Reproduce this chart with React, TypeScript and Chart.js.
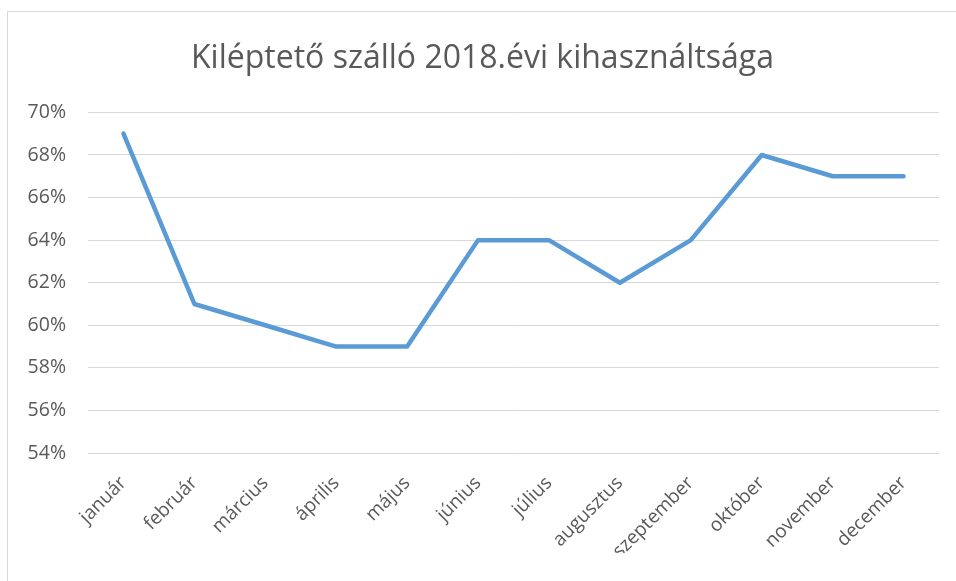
import React, { useEffect, useRef } from "react";
import { Chart, registerables } from "chart.js";

Chart.register(...registerables);

const TITLE = "Kiléptető szálló 2018.évi kihasználtsága";
const MONTHS = [
  "január", "február", "március", "április", "május", "június",
  "július", "augusztus", "szeptember", "október", "november", "december",
];
const OCCUPANCY = [0.69, 0.61, 0.60, 0.59, 0.59, 0.64, 0.64, 0.62, 0.64, 0.68, 0.67, 0.67];
const Y_MIN = 0.54;
const Y_MAX = 0.70;
const Y_STEP = 0.02;

const FONT = "'Open Sans', 'DejaVu Sans', sans-serif";
const TEXT = "#595959";

export default function App() {
  const ref = useRef<HTMLCanvasElement>(null);
  useEffect(() => {
    if (!ref.current) return;
    const chart = new Chart(ref.current, {
      type: "line",
      data: {
        labels: MONTHS,
        datasets: [
          {
            data: OCCUPANCY,
            borderColor: "#5B9BD5",
            borderWidth: 4.5,
            borderCapStyle: "round",
            borderJoinStyle: "round",
            pointRadius: 0,
            tension: 0,
            fill: false,
          },
        ],
      },
      options: {
        animation: false,
        responsive: false,
        maintainAspectRatio: false,
        layout: { padding: { left: 26, right: 17, top: 22, bottom: 28 } },
        plugins: {
          legend: { display: false },
          tooltip: { enabled: false },
          title: {
            display: true,
            text: TITLE,
            color: TEXT,
            font: { family: FONT, size: 32, weight: "normal" },
            padding: { top: 18, bottom: 34 },
          },
        },
        scales: {
          x: {
            offset: true,
            grid: { display: false, drawTicks: false },
            border: { display: false },
            ticks: {
              color: TEXT,
              font: { family: FONT, size: 19 },
              minRotation: 45,
              maxRotation: 45,
              padding: 19,
              autoSkip: false,
            },
            afterFit: (s: any) => { s.height = 100; },
          },
          y: {
            min: Y_MIN,
            max: Y_MAX,
            grid: { color: "#d9d9d9", lineWidth: 1, drawTicks: false },
            border: { display: false },
            ticks: {
              stepSize: Y_STEP,
              color: TEXT,
              font: { family: FONT, size: 19.5 },
              padding: 22,
              callback: (v: any) => Math.round(Number(v) * 100) + "%",
            },
            afterFit: (s: any) => { s.width = 62; },
          },
        },
      },
    });
    return () => chart.destroy();
  }, []);
  return (
    <div style={{ position: "absolute", left: 0, top: 0, width: 956, height: 581, overflow: "hidden", background: "#fff" }}>
      <div style={{ position: "absolute", left: 7, top: 11, width: 970, height: 600, border: "1px solid #d9d9d9", boxSizing: "border-box" }} />
      <canvas ref={ref} width={956} height={581} style={{ position: "absolute", left: 0, top: 0, width: 956, height: 581 }} />
    </div>
  );
}
